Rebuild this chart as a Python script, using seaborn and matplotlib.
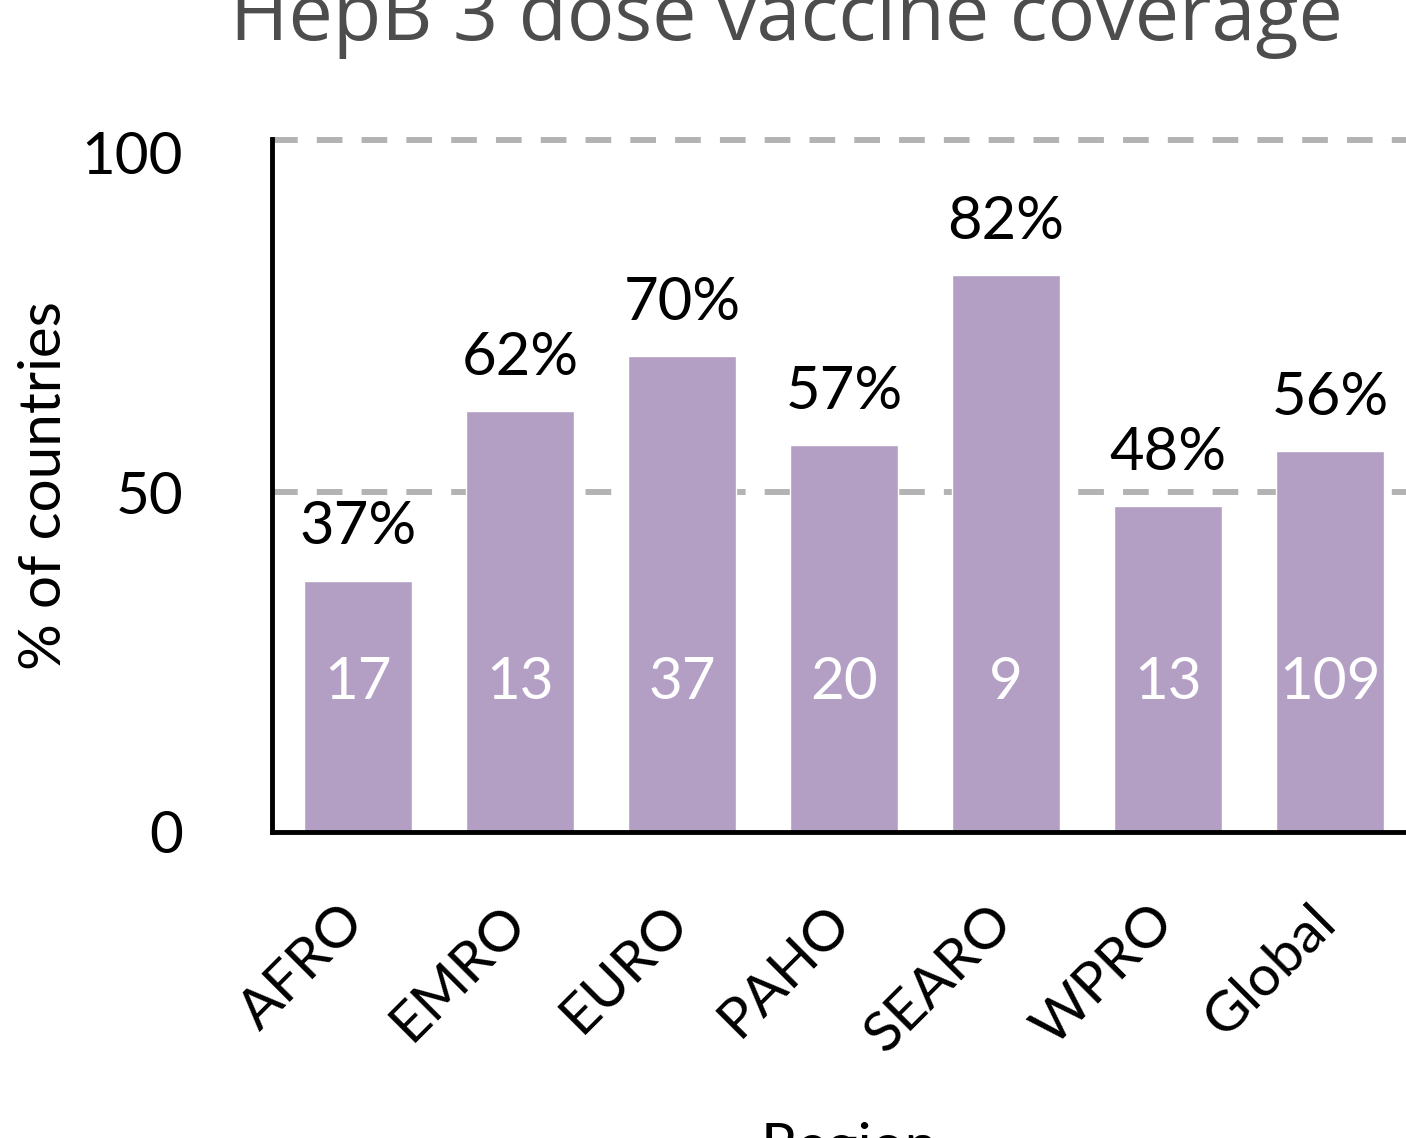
import pandas as pd
import matplotlib.pyplot as plt
import matplotlib.transforms as mtransforms
import seaborn as sns

regions = ['AFRO', 'EMRO', 'EURO', 'PAHO', 'SEARO', 'WPRO', 'Global']
coverage = [37, 62, 70, 57, 82, 48, 56]
n_countries = [17, 13, 37, 20, 9, 13, 109]

sns.set_style("white")
plt.rcParams['font.family'] = ['Lato', 'DejaVu Sans']
plt.rcParams['text.color'] = 'black'
plt.rcParams['axes.labelcolor'] = 'black'
plt.rcParams['xtick.color'] = 'black'
plt.rcParams['ytick.color'] = 'black'

df = pd.DataFrame({'region': regions, 'coverage': coverage, 'n': n_countries})

fig = plt.figure(figsize=(14.06, 11.38), dpi=100)
ax = fig.add_axes([0.1935, 0.2689, 0.8215, 0.609])

# dashed reference lines behind the bars (upper one sits at the top of the panel)
for y in [50, 101.9]:
    ax.axhline(y, color='#b3b3b3', lw=4.3, dashes=(4.3, 3.2), zorder=0, clip_on=False)

sns.barplot(data=df, x='region', y='coverage', color='#b39ec4', width=0.667,
            saturation=1, ax=ax, zorder=2)

for i, (c, n) in enumerate(zip(coverage, n_countries)):
    ax.annotate(f'{c}%', (i, c), xytext=(0, 26), textcoords='offset points',
                ha='center', va='baseline', fontsize=43)
    ax.text(i, 22.0, str(n), ha='center', va='center', color='white', fontsize=42, zorder=3)

ax.set_ylim(0, 102)
ax.set_xlim(-0.531, 6.6)
ax.set_yticks([0, 50, 100])
ax.tick_params(axis='y', length=0, pad=64, labelsize=42)
ax.tick_params(axis='x', length=0, pad=46, labelsize=41)
shift = mtransforms.ScaledTranslation(0.16, 0, fig.dpi_scale_trans)
for lab in ax.get_xticklabels():
    lab.set_rotation(45)
    lab.set_ha('right')
    lab.set_va('top')
    lab.set_transform(lab.get_transform() + shift)

for s in ['top', 'right']:
    ax.spines[s].set_visible(False)
for s in ['left', 'bottom']:
    ax.spines[s].set_color('black')
    ax.spines[s].set_linewidth(3.5)

ax.set_xlabel('Region', fontsize=42, labelpad=43)
ax.set_ylabel('% of countries', fontsize=42, labelpad=8)

fig.text(0.559, 0.965, 'HepB 3 dose vaccine coverage', family='Open Sans',
         color='#4d4d4d', fontsize=57, ha='center', va='baseline')

fig.savefig('out.png', dpi=100)
